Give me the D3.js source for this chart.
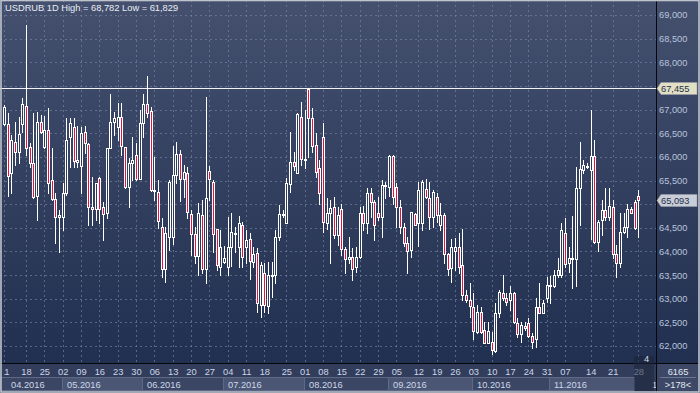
<!DOCTYPE html>
<html><head><meta charset="utf-8">
<script src="https://cdn.jsdelivr.net/npm/d3@7"></script>
<style>
html,body{margin:0;padding:0;background:#2b3654;overflow:hidden}
svg{display:block}
text{font-family:"Liberation Sans",Arial,sans-serif}
</style></head><body>
<svg id="c" width="700" height="393"></svg>
<script>
// ---- data (USDRUB daily, Apr–Nov 2016) ----
const open=[66696,66688,65653,66308,66111,66688,67076,66202,65878,65173,
66745,66216,66569,65512,65103,64722,64737,65230,66414,66639,
65899,65808,66533,66266,64948,64892,65561,64948,64807,66181,
66745,66625,66837,66216,65371,65864,66040,65526,66724,67118,
66970,65286,65265,64525,63623,64314,64314,65617,66061,65526,
65653,64793,64370,63905,64772,63623,65709,65462,64469,63679,
63785,63679,64102,64384,64102,64553,64102,64257,63785,63975,
62869,63553,62848,63482,63503,64314,64772,64610,65420,65885,
65667,66837,65934,67428,66815,66245,65758,66428,64610,64807,
64934,64349,64892,64046,63848,63877,63679,63891,64807,64610,
65244,65053,64807,64722,65392,65371,66019,65371,64934,64525,
64187,64032,64793,64610,64610,65314,65124,64722,65159,64560,
64772,63947,63644,64018,64088,63714,63080,62975,62834,62305,
62728,62340,62072,62094,61904,62693,63130,63010,62975,63116,
62496,62256,62425,62481,62214,62143,62834,62707,63010,63282,
63271,63503,63503,64384,63750,63834,63834,65350,65723,65793,
65723,66019,64208,64666,64877,64722,64934,63947,63750,64419,
64525,64892,65053,65173];
const high=[67097,66935,66463,66745,66851,67238,68782,66287,66921,66956,
66886,66865,67027,66181,65230,64877,65441,66815,66815,66815,
66653,66639,66653,66287,65582,65455,65582,65053,66181,67323,
66956,67132,67146,66216,65970,66428,66287,66991,67330,67710,
67062,66005,65512,64701,64525,65512,66231,66322,66146,65829,
65793,64877,64525,65018,65089,67259,65808,65512,64469,64455,
64116,64737,64807,64525,64751,64631,64455,64384,64102,64067,
63785,63750,63785,63785,64455,64983,64877,65547,66533,66111,
66921,67168,66991,67455,67027,66498,65934,66710,65124,65089,
65159,64948,65004,64102,64314,64067,64102,64948,64962,65336,
65336,65089,65159,65512,65476,66040,66040,65455,65089,64596,
64300,64842,64807,65476,65512,65526,65462,65300,65230,65032,
64807,63975,64257,64278,64384,64469,63186,63341,63130,62869,
62834,62517,62517,62305,62904,63186,63503,63116,63271,63151,
62587,62517,62517,62587,62270,63010,63327,62975,63468,63482,
63609,63855,64596,64701,64102,64751,65793,66322,65934,65864,
66991,66357,64666,65089,65336,65336,65089,64138,64807,64807,
65004,64948,65089,65300];
const low=[66674,65180,65244,65829,65864,66533,66040,65793,65124,64666,
66498,66181,65230,65089,64187,63982,64455,65194,65793,65793,
65793,65230,66075,64553,64553,64666,64596,64243,64701,66181,
66463,66357,66040,65336,64934,65512,65512,65526,66428,66837,
65286,65089,64490,63468,63362,64032,64152,65441,65075,65159,
64701,63926,63750,63503,63538,63341,65089,63996,63609,63503,
63750,63503,63693,63996,63679,63679,63750,63412,63679,62728,
62622,62728,62693,63045,63327,64243,64737,64610,65265,65723,
65667,65829,65758,66005,66111,65582,65004,64419,64469,63750,
64278,64138,63926,63538,63750,63398,63574,63855,64455,64398,
64737,64243,64666,64314,65124,65173,65004,64525,64384,64116,
63538,63891,64560,64116,64455,65124,64469,64525,64631,64455,
63750,63503,63362,63609,63538,62975,62939,62622,62143,62270,
62270,62059,62059,61829,61883,62622,62975,62869,62763,62496,
62200,62094,62340,62200,61953,61988,62693,62693,62939,62904,
63242,63468,63468,63679,63574,63222,63271,64560,65653,65758,
64257,64173,64018,64349,64666,64666,63855,63454,63679,64384,
64314,64807,64469,64314];
const close=[67062,65603,66357,66097,66484,67111,66195,65878,65159,66745,
66533,66569,65441,65103,64737,64772,65230,66357,66710,65913,
65934,66512,66287,64934,64892,65455,64892,64793,66181,66745,
66815,66837,66231,65371,65864,65934,65526,66724,67118,66921,
65300,65300,64645,63623,64384,65476,65617,66061,65526,65688,
64842,64370,63905,64821,63623,65124,65526,64370,63714,64102,
63855,64102,64419,64398,64610,63877,64243,63806,63947,62904,
63714,62869,63503,63503,64314,64786,64786,65441,65899,65808,
66900,65949,65949,66815,66231,65688,65244,64631,64807,64913,
64349,64772,64046,63834,63877,63623,63891,64807,64610,65244,
65053,64560,64722,65406,65406,66019,65145,64934,64525,64187,
64018,64842,64560,65300,65476,65159,64722,65265,64772,64772,
63947,63623,64088,64088,63665,63080,62975,62848,62326,62728,
62305,62072,62326,61918,62693,63151,63010,62939,63116,62517,
62256,62446,62376,62214,62094,62834,62707,62904,63292,63292,
63503,63609,64455,63736,63855,63855,65350,65737,65829,65808,
66019,64208,64631,64877,64722,64962,63947,63750,64419,64525,
64892,64821,64490,65093];

const dayTickIndex=[0,6,11,16,21,26,31,36,41,46,51,56,61,66,71,77,82,87,92,97,102,107,113,118,123,128,133,138,143,148,153,160,166,173];
const dayTickLabels=["11","18","25","02","09","16","23","30","06","13","20","27","04","11","18","25","01","08","15","22","29","05","12","19","26","03","10","17","24","31","07","14","21","28"];
const monthStartIndex=[0,16,38,60,82,105,128,149];
const monthLabels=["04.2016","05.2016","06.2016","07.2016","08.2016","09.2016","10.2016","11.2016"];
const nextMonthLabel="12.2016";
const yTicks=[62000,62500,63000,63500,64000,64500,65000,65500,66000,66500,67000,67500,68000,68500,69000];
const titleText="USDRUB 1D High = 68,782 Low = 61,829";
const levelLine=67455;
const lastPrice=65093;

// ---- layout ----
const W=700,H=393, PR=656, PB=363;
const svg=d3.select("#c");
const x=d3.scaleLinear().domain([0,open.length-1]).range([4,638.3]);
const y=d3.scaleLinear().domain([62000,69000]).range([346,15]);
const fmt=d3.format(",");
const px=v=>Math.round(x(v));

const defs=svg.append("defs");
const g1=defs.append("linearGradient").attr("id","bg").attr("x1",0).attr("y1",0).attr("x2",0).attr("y2",1);
g1.append("stop").attr("offset","0%").attr("stop-color","#44506e");
g1.append("stop").attr("offset","100%").attr("stop-color","#212f50");
defs.append("clipPath").attr("id","pc").append("rect").attr("x",0).attr("y",0).attr("width",PR).attr("height",PB);

svg.append("rect").attr("x",0).attr("y",0).attr("width",W).attr("height",PB).attr("fill","url(#bg)");

const plot=svg.append("g").attr("clip-path","url(#pc)");
plot.selectAll("line.hg").data(yTicks).join("line").attr("class","hg")
  .attr("x1",0).attr("x2",PR).attr("y1",d=>Math.round(y(d))+0.5).attr("y2",d=>Math.round(y(d))+0.5)
  .attr("stroke","#7d89a6").attr("stroke-opacity",0.6).attr("stroke-dasharray","2,3");
plot.selectAll("line.vg").data(dayTickIndex).join("line").attr("class","vg")
  .attr("x1",d=>px(d)+0.5).attr("x2",d=>px(d)+0.5).attr("y1",0).attr("y2",PB)
  .attr("stroke","#7d89a6").attr("stroke-opacity",0.6).attr("stroke-dasharray","2,3");
plot.append("line").attr("x1",0).attr("x2",PR)
  .attr("y1",Math.round(y(levelLine))+0.5).attr("y2",Math.round(y(levelLine))+0.5)
  .attr("stroke","#f2f2f2").attr("stroke-width",1);

// candles
const idx=d3.range(open.length);
const cg=plot.append("g");
cg.selectAll("line.w").data(idx).join("line").attr("class","w")
  .attr("x1",i=>px(i)+0.5).attr("x2",i=>px(i)+0.5)
  .attr("y1",i=>Math.round(y(high[i]))).attr("y2",i=>Math.round(y(low[i]))+1)
  .attr("stroke","#ffffff").attr("stroke-width",1);
cg.selectAll("rect.b").data(idx).join("rect").attr("class","b")
  .attr("x",i=>px(i)-0.5)
  .attr("y",i=>Math.round(y(Math.max(open[i],close[i])))+0.5)
  .attr("width",2)
  .attr("height",i=>Math.max(1,Math.round(y(Math.min(open[i],close[i])))-Math.round(y(Math.max(open[i],close[i])))))
  .attr("fill",i=>close[i]<open[i]?"#e3123f":"#2f3b5a")
  .attr("stroke","#ffffff").attr("stroke-width",1);

// title
svg.append("text").attr("x",5).attr("y",11).attr("font-size",9.3).attr("fill","#e9edf5").text(titleText);

// right axis panel
svg.append("line").attr("x1",PR+0.5).attr("x2",PR+0.5).attr("y1",0).attr("y2",PB).attr("stroke","#05070c");
// labels hidden behind the price tags in the reference are not drawn
const ya=svg.append("g").attr("transform",`translate(${PR+3},0)`)
  .call(d3.axisRight(y).tickValues(yTicks.filter(d=>d!==67500 && d!==65000)).tickFormat(fmt).tickSize(0).tickPadding(0));
ya.select(".domain").remove();
ya.selectAll("text").attr("font-size",9.3).attr("fill","#b9c4dc").attr("font-family","Liberation Sans, Arial, sans-serif");

function tag(v,fill){
  const yc=Math.round(y(v))+0.5;
  const g=svg.append("g");
  g.append("path").attr("d",`M${PR+1},${yc} L${PR+5},${yc-6} L${W-3},${yc-6} L${W-3},${yc+6} L${PR+5},${yc+6} Z`)
    .attr("fill",fill).attr("stroke","#9aa0a8").attr("stroke-width",0.6);
  g.append("text").attr("x",PR+5).attr("y",yc+3.3).attr("font-size",9.3).attr("fill","#253049").text(fmt(v));
}
tag(levelLine,"#e2e0c4");
tag(lastPrice,"#c9cdd8");

// bottom axis area
svg.append("rect").attr("x",0).attr("y",PB).attr("width",W).attr("height",H-PB).attr("fill","#313d5b");
svg.append("line").attr("x1",0).attr("x2",W).attr("y1",PB+0.5).attr("y2",PB+0.5).attr("stroke","#05070c");
svg.append("line").attr("x1",PR+0.5).attr("x2",PR+0.5).attr("y1",PB).attr("y2",H).attr("stroke","#05070c");

defs.append("clipPath").attr("id","ac").append("rect").attr("x",4).attr("y",PB).attr("width",PR-4).attr("height",H-PB);
const axg=svg.append("g").attr("clip-path","url(#ac)");
const mbg=svg.append("g").attr("clip-path","url(#pc2)");
defs.append("clipPath").attr("id","pc2").append("rect").attr("x",0).attr("y",PB).attr("width",PR).attr("height",H-PB);

// month boxes
monthLabels.forEach((m,k)=>{
  const x0=k===0?0:px(monthStartIndex[k])-1;
  const x1=k<monthLabels.length-1?px(monthStartIndex[k+1])-1:634;
  mbg.append("rect").attr("x",x0+0.5).attr("y",377.5).attr("width",Math.max(0,x1-x0)).attr("height",13)
    .attr("fill",k%2===1?"#4a5674":"#3a4664").attr("stroke","#5d6986").attr("stroke-width",1);
  mbg.append("text").attr("x",x0+(k===0?11:5)).attr("y",387.5).attr("font-size",9.3).attr("fill","#cfd8ea").text(m);
});
// next month label only shows its first glyph before the axis panel
mbg.append("text").attr("x",652).attr("y",387.5).attr("font-size",9.3).attr("fill","#cfd8ea").text(nextMonthLabel.slice(0,1));

// day labels
const xa=axg.append("g").attr("transform","translate(0,368.5)")
  .call(d3.axisBottom(x).tickValues(dayTickIndex).tickFormat((d,i)=>dayTickLabels[i]).tickSize(0).tickPadding(0));
xa.select(".domain").remove();
xa.selectAll("text").attr("font-size",9.3).attr("fill","#cdd7ea").attr("font-family","Liberation Sans, Arial, sans-serif");

// cursor box near last bar
svg.append("rect").attr("x",634).attr("y",356).attr("width",20).attr("height",H-356).attr("rx",2)
  .attr("fill","#1c2438").attr("fill-opacity",0.55);
svg.append("text").attr("x",644).attr("y",361.5).attr("font-size",9.3).attr("fill","#d6dcea").text("4");

// bottom right box
svg.append("rect").attr("x",PR+1).attr("y",PB+1).attr("width",W-PR-3).attr("height",H-PB-3).attr("fill","#3c4866");
svg.append("line").attr("x1",PR+4).attr("x2",W-4).attr("y1",377.5).attr("y2",377.5).attr("stroke","#6a7692");
svg.append("text").attr("x",678).attr("y",375).attr("text-anchor","middle").attr("font-size",9.3).attr("fill","#e3e8f2").text("6165");
svg.append("text").attr("x",678).attr("y",387.5).attr("text-anchor","middle").attr("font-size",9.3).attr("fill","#e3e8f2").text(">178<");

// window frame
svg.append("rect").attr("x",1).attr("y",0.5).attr("width",W-2).attr("height",H-1.5)
  .attr("fill","none").attr("stroke","#bfc4cc").attr("stroke-width",1.6);
</script>
</body></html>
